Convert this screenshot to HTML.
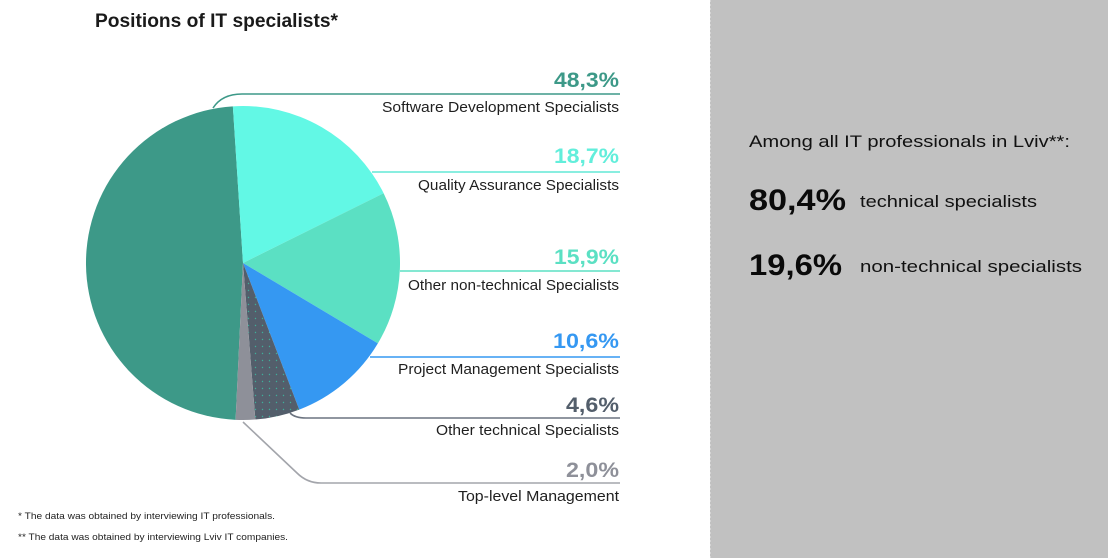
<!DOCTYPE html>
<html>
<head>
<meta charset="utf-8">
<style>
  html,body{margin:0;padding:0;background:#fff;}
  body{width:1108px;height:558px;overflow:hidden;position:relative;}
  svg{position:absolute;left:0;top:0;}
  text{font-family:"Liberation Sans",sans-serif;}
</style>
</head>
<body>
<svg width="1108" height="558" viewBox="0 0 1108 558" xmlns="http://www.w3.org/2000/svg">
  <defs>
    <pattern id="dots" width="7" height="7" patternUnits="userSpaceOnUse">
      <rect width="7" height="7" fill="#535e6b"/>
      <circle cx="3.5" cy="3.5" r="0.7" fill="#3fae9a"/>
    </pattern>
  </defs>
  <rect x="0" y="0" width="1108" height="558" fill="#ffffff"/>
  <rect x="710" y="0" width="398" height="558" fill="#c1c1c1"/>
  <line x1="710.5" y1="0" x2="710.5" y2="558" stroke="#d4d4d4" stroke-width="1" stroke-dasharray="2,2"/>

  <!-- Title -->
  <text x="95" y="27" font-size="19" font-weight="bold" fill="#1a1a1a" textLength="243" lengthAdjust="spacingAndGlyphs">Positions of IT specialists*</text>

  <!-- Pie -->
  <path d="M243 263 L235.60 419.83 A157 157 0 0 1 232.87 106.33 Z" fill="#3d9988"/>
  <path d="M243 263 L232.87 106.33 A157 157 0 0 1 383.62 193.20 Z" fill="#62f8e5"/>
  <path d="M243 263 L383.62 193.20 A157 157 0 0 1 377.87 343.39 Z" fill="#5be0c3"/>
  <path d="M243 263 L377.87 343.39 A157 157 0 0 1 299.26 409.58 Z" fill="#3598f2"/>
  <path d="M243 263 L299.26 409.58 A157 157 0 0 1 255.32 419.52 Z" fill="url(#dots)"/>
  <path d="M243 263 L255.32 419.52 A157 157 0 0 1 235.60 419.83 Z" fill="#8e9099"/>

  <!-- Connectors -->
  <path d="M213 108 Q222 94 242 94 L620 94" fill="none" stroke="#3d9988" stroke-width="1.6"/>
  <path d="M372 172 L620 172" fill="none" stroke="#62e8d6" stroke-width="1.6"/>
  <path d="M400 271 L620 271" fill="none" stroke="#5be0c3" stroke-width="1.6"/>
  <path d="M370 357 L620 357" fill="none" stroke="#3598f2" stroke-width="1.6"/>
  <path d="M290 413 Q295 418 306 418 L620 418" fill="none" stroke="#6c7480" stroke-width="1.6"/>
  <path d="M243 422 L297 473 Q307 483 321 483 L620 483" fill="none" stroke="#a3a5ab" stroke-width="1.6"/>

  <!-- Percentages -->
  <g font-weight="bold" font-size="21" text-anchor="end">
    <text x="619" y="87" fill="#3d9988" textLength="65" lengthAdjust="spacingAndGlyphs">48,3%</text>
    <text x="619" y="163" fill="#62eedb" textLength="65" lengthAdjust="spacingAndGlyphs">18,7%</text>
    <text x="619" y="264" fill="#5be0c3" textLength="65" lengthAdjust="spacingAndGlyphs">15,9%</text>
    <text x="619" y="348" fill="#3598f2" textLength="66" lengthAdjust="spacingAndGlyphs">10,6%</text>
    <text x="619" y="412" fill="#535e6b" textLength="53" lengthAdjust="spacingAndGlyphs">4,6%</text>
    <text x="619" y="477" fill="#8e9099" textLength="53" lengthAdjust="spacingAndGlyphs">2,0%</text>
  </g>

  <!-- Labels -->
  <g font-size="15" fill="#1f1f1f" text-anchor="end">
    <text x="619" y="112" textLength="237" lengthAdjust="spacingAndGlyphs">Software Development Specialists</text>
    <text x="619" y="190" textLength="201" lengthAdjust="spacingAndGlyphs">Quality Assurance Specialists</text>
    <text x="619" y="290" textLength="211" lengthAdjust="spacingAndGlyphs">Other non-technical Specialists</text>
    <text x="619" y="374" textLength="221" lengthAdjust="spacingAndGlyphs">Project Management Specialists</text>
    <text x="619" y="435" textLength="183" lengthAdjust="spacingAndGlyphs">Other technical Specialists</text>
    <text x="619" y="501" textLength="161" lengthAdjust="spacingAndGlyphs">Top-level Management</text>
  </g>

  <!-- Footnotes -->
  <g font-size="9.5" fill="#1f1f1f">
    <text x="18" y="519" textLength="257" lengthAdjust="spacingAndGlyphs">* The data was obtained by interviewing IT professionals.</text>
    <text x="18" y="540" textLength="270" lengthAdjust="spacingAndGlyphs">** The data was obtained by interviewing Lviv IT companies.</text>
  </g>

  <!-- Right panel -->
  <text x="749" y="147" font-size="17" fill="#111" textLength="321" lengthAdjust="spacingAndGlyphs">Among all IT professionals in Lviv**:</text>
  <text x="749" y="210" font-size="30" font-weight="bold" fill="#0a0a0a" textLength="97" lengthAdjust="spacingAndGlyphs">80,4%</text>
  <text x="860" y="207" font-size="17" fill="#111" textLength="177" lengthAdjust="spacingAndGlyphs">technical specialists</text>
  <text x="749" y="275" font-size="30" font-weight="bold" fill="#0a0a0a" textLength="93" lengthAdjust="spacingAndGlyphs">19,6%</text>
  <text x="860" y="272" font-size="17" fill="#111" textLength="222" lengthAdjust="spacingAndGlyphs">non-technical specialists</text>
</svg>
</body>
</html>
